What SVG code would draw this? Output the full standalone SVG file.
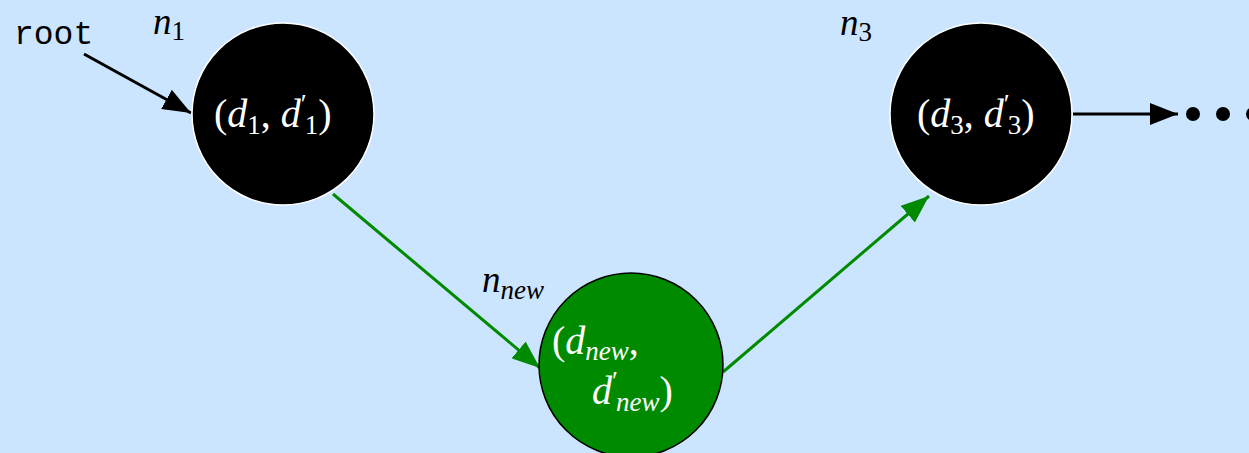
<svg xmlns="http://www.w3.org/2000/svg" width="1249" height="453" viewBox="0 0 1249 453">
<style>
.m{font-family:"Liberation Serif","DejaVu Serif",serif;}
.w{fill:#fff;}
.lbl{font-size:37px;fill:#000;}
.in{font-size:40px;}
.sub{font-size:27px;}
</style>
<defs>
<marker id="bk" viewBox="-28 -11 28 22" refX="0" refY="0" markerWidth="28" markerHeight="22" markerUnits="userSpaceOnUse" orient="auto">
<path d="M-28,-11 L0,0 L-28,11 Z" fill="#000"/>
</marker>
<marker id="gr" viewBox="-28 -11 28 22" refX="0" refY="0" markerWidth="28" markerHeight="22" markerUnits="userSpaceOnUse" orient="auto">
<path d="M-28,-11 L0,0 L-28,11 Z" fill="#008a00"/>
</marker>
</defs>
<rect width="1249" height="453" fill="#cce5ff"/>
<g id="connectors" stroke-width="3" fill="none">
<line x1="84" y1="54" x2="191" y2="113" stroke="#000" marker-end="url(#bk)"/>
<line x1="333" y1="194" x2="540" y2="368" stroke="#008a00" marker-end="url(#gr)"/>
<line x1="723" y1="372" x2="929" y2="196" stroke="#008a00" marker-end="url(#gr)"/>
<line x1="1073" y1="114" x2="1178" y2="114" stroke="#000" marker-end="url(#bk)"/>
</g>
<g id="root">
<text x="14" y="44" font-family="Liberation Mono, DejaVu Sans Mono, monospace" font-size="33" fill="#000">root</text>
</g>
<g id="n1">
<circle cx="283" cy="114" r="91" fill="#000" stroke="#fff" stroke-width="1.5"/>
<text x="153" y="34" class="m lbl"><tspan font-style="italic">n</tspan><tspan class="sub" dy="6">1</tspan></text>
<text x="214" y="127" class="m w in">(<tspan font-style="italic">d</tspan><tspan class="sub" dy="7">1</tspan><tspan dy="-7">, </tspan><tspan font-style="italic">d</tspan><tspan class="sub" dy="-14">′</tspan><tspan class="sub" dx="-2" dy="21">1</tspan><tspan dy="-7">)</tspan></text>
</g>
<g id="n3">
<circle cx="981" cy="114" r="91" fill="#000" stroke="#fff" stroke-width="1.5"/>
<text x="840" y="35" class="m lbl"><tspan font-style="italic">n</tspan><tspan class="sub" dy="6">3</tspan></text>
<text x="917" y="127" class="m w in">(<tspan font-style="italic">d</tspan><tspan class="sub" dy="7">3</tspan><tspan dy="-7">, </tspan><tspan font-style="italic">d</tspan><tspan class="sub" dy="-14">′</tspan><tspan class="sub" dx="-2" dy="21">3</tspan><tspan dy="-7">)</tspan></text>
</g>
<g id="nnew">
<circle cx="631" cy="365" r="92" fill="#008a00" stroke="#000" stroke-width="1.5"/>
<text x="482" y="292" class="m lbl"><tspan font-style="italic">n</tspan><tspan class="sub" font-style="italic" dy="7">new</tspan></text>
<text x="552" y="354" class="m w in">(<tspan font-style="italic">d</tspan><tspan class="sub" font-style="italic" dy="6">new</tspan><tspan dy="-6">,</tspan></text>
<text x="592" y="404" class="m w in"><tspan font-style="italic">d</tspan><tspan class="sub" dy="-14">′</tspan><tspan class="sub" font-style="italic" dx="-2" dy="21">new</tspan><tspan dy="-7">)</tspan></text>
</g>
<g id="dots" fill="#000">
<circle cx="1193" cy="114" r="7"/>
<circle cx="1223" cy="114" r="7"/>
<circle cx="1253" cy="114" r="7"/>
</g>
</svg>
